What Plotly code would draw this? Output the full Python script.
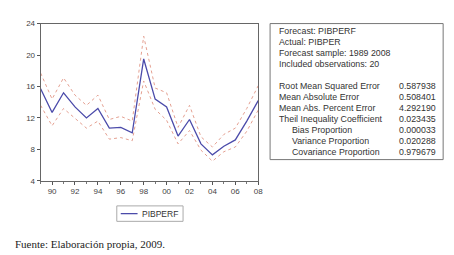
import plotly.graph_objects as go

years = list(range(1989, 2009))
forecast = [15.7, 12.7, 15.2, 13.4, 12.0, 13.2, 10.7, 10.8, 10.1, 19.5,
            14.4, 13.4, 9.7, 11.8, 8.7, 7.3, 8.4, 9.2, 11.6, 14.2]
upper = [17.7, 14.4, 17.1, 14.9, 13.6, 14.9, 11.8, 12.2, 11.6, 22.4,
         15.8, 15.2, 10.8, 13.6, 9.6, 8.3, 9.9, 10.7, 13.2, 16.1]
lower = [13.6, 11.0, 13.2, 11.9, 10.7, 11.6, 9.3, 9.5, 9.1, 16.7,
         13.1, 11.7, 8.7, 10.4, 7.9, 6.5, 7.7, 8.3, 10.3, 13.0]
tick_years = list(range(1990, 2009, 2))
tick_text = ["90", "92", "94", "96", "98", "00", "02", "04", "06", "08"]

info_lines = ["Forecast: PIBPERF", "Actual: PIBPER",
              "Forecast sample: 1989 2008", "Included observations: 20"]
stat_names = ["Root Mean Squared Error", "Mean Absolute Error",
              "Mean Abs. Percent Error", "Theil Inequality Coefficient",
              "Bias Proportion", "Variance Proportion", "Covariance Proportion"]
stat_values = ["0.587938", "0.508401", "4.292190", "0.023435",
               "0.000033", "0.020288", "0.979679"]
stat_indent = [False, False, False, False, True, True, True]
source_text = "Fuente: Elaboración propia, 2009."

W, H = 454, 255
def px(x): return x / W
def py(y): return 1 - y / H

band_color = "rgb(228,160,145)"
line_color = "rgb(75,75,170)"

fig = go.Figure()
fig.add_trace(go.Scatter(x=years, y=upper, mode="lines", showlegend=False,
                         line=dict(color=band_color, width=1, dash="dot")))
fig.add_trace(go.Scatter(x=years, y=lower, mode="lines", showlegend=False,
                         line=dict(color=band_color, width=1, dash="dot")))
fig.add_trace(go.Scatter(x=years, y=forecast, mode="lines", name="PIBPERF",
                         showlegend=False,
                         line=dict(color=line_color, width=1.3)))

font_axis = dict(family="Liberation Sans, Arial", size=8, color="#444")
fig.update_layout(
    width=W, height=H, margin=dict(l=0, r=0, t=0, b=0),
    paper_bgcolor="white", plot_bgcolor="white",
    xaxis=dict(domain=[px(33), px(253)], range=[1989, 2008],
               tickvals=tick_years, ticktext=tick_text, ticks="outside",
               ticklen=3, tickcolor="#555", showgrid=False, zeroline=False,
               showline=True, linecolor="#666", linewidth=1, mirror=True,
               tickfont=font_axis,
               minor=dict(tickvals=years, ticks="outside", ticklen=2,
                          tickcolor="#777")),
    yaxis=dict(domain=[py(175), py(12)], range=[4, 24], dtick=4,
               tick0=4, ticks="outside", ticklen=3, tickcolor="#555",
               showgrid=False, zeroline=False, showline=True,
               linecolor="#666", linewidth=1, mirror=True,
               tickfont=font_axis),
)

shapes = []
shapes.append(dict(type="rect", xref="paper", yref="paper",
                   x0=px(265), x1=px(440), y0=py(153), y1=py(12),
                   line=dict(color="#777", width=1), fillcolor="white"))
shapes.append(dict(type="rect", xref="paper", yref="paper",
                   x0=px(110), x1=px(177), y0=py(217), y1=py(201),
                   line=dict(color="#aaa", width=1)))
shapes.append(dict(type="line", xref="paper", yref="paper",
                   x0=px(114), x1=px(131), y0=py(209), y1=py(209),
                   line=dict(color=line_color, width=1.3)))
fig.update_layout(shapes=shapes)

font_box = dict(family="Liberation Sans, Arial", size=8.8, color="#333")
ann = []
for i, t in enumerate(info_lines):
    ann.append(dict(text=t, x=px(272), y=py(20 + 11.2 * i), xref="paper",
                    yref="paper", xanchor="left", yanchor="middle",
                    showarrow=False, font=font_box))
for j, (n, v, ind) in enumerate(zip(stat_names, stat_values, stat_indent)):
    yy = py(77 + 11.4 * j)
    ann.append(dict(text=n, x=px(285 if ind else 272), y=yy, xref="paper",
                    yref="paper", xanchor="left", yanchor="middle",
                    showarrow=False, font=font_box))
    ann.append(dict(text=v, x=px(435), y=yy, xref="paper", yref="paper",
                    xanchor="right", yanchor="middle", showarrow=False,
                    font=font_box))
ann.append(dict(text="PIBPERF", x=px(133), y=py(209), xref="paper",
                yref="paper", xanchor="left", yanchor="middle",
                showarrow=False, font=dict(family="Liberation Sans, Arial",
                                           size=8.5, color="#333")))
ann.append(dict(text=source_text, x=px(5), y=py(241), xref="paper",
                yref="paper", xanchor="left", yanchor="middle",
                showarrow=False, font=dict(family="Liberation Serif, Times New Roman",
                                           size=11, color="#222")))
fig.update_layout(annotations=ann)

fig.write_html("out.html")
